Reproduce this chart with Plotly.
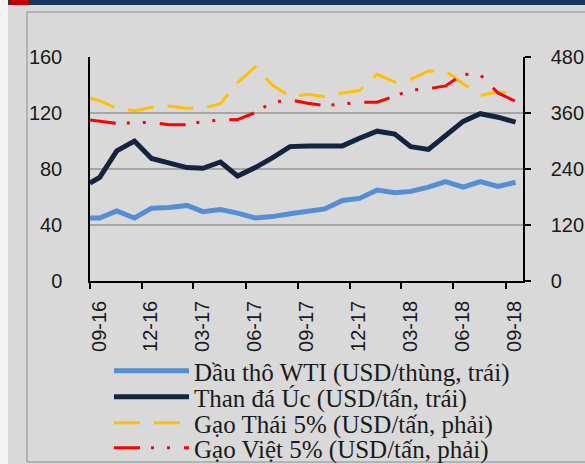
import plotly.graph_objects as go

# monthly observations (first point sits on the 09-16 tick)
dates = ["2016-09-01", "2016-09-18", "2016-10-18", "2016-11-18", "2016-12-18",
         "2017-01-18", "2017-02-18", "2017-03-18", "2017-04-18", "2017-05-18",
         "2017-06-18", "2017-07-18", "2017-08-18", "2017-09-18", "2017-10-18",
         "2017-11-18", "2017-12-18", "2018-01-18", "2018-02-18", "2018-03-18",
         "2018-04-18", "2018-05-18", "2018-06-18", "2018-07-18", "2018-08-18",
         "2018-09-18"]

wti = [45, 45, 50, 45, 52, 52.5, 54, 49.5, 51, 48.5, 45, 46, 48, 49.5, 51.5,
       57.5, 59, 65, 63, 64, 67, 71, 67, 71, 67.5, 70.5]
coal = [70, 74, 93, 100, 87.5, 84.5, 81, 80.5, 85, 75, 81, 88, 96, 96.5, 96.5,
        96.5, 102, 107, 105, 96, 94, 104, 114, 119.5, 117, 113.5]
thai_rice = [392, 386, 370, 365, 372, 375, 370, 370, 380, 425, 459, 420, 395, 400,
             395, 403, 408, 443, 426, 432, 450, 450, 423, 398, 405, 402]
viet_rice = [345, 343, 338, 339, 340, 335, 335, 342, 345, 346, 361, 383, 388, 381,
             376, 379, 383, 383, 396, 409, 412, 418, 443, 442, 403, 385]

names = ["Dầu thô WTI (USD/thùng, trái)",
         "Than đá Úc (USD/tấn, trái)",
         "Gạo Thái 5% (USD/tấn, phải)",
         "Gạo Việt 5% (USD/tấn, phải)"]

W, H = 585, 464
ML, MR, MT, MB = 90, 62, 57, 183
PW, PH = W - ML - MR, H - MT - MB


def px(x):
    return (x - ML) / PW


def py(y):
    return (H - MB - y) / PH


fig = go.Figure()
fig.add_trace(go.Scatter(x=dates, y=wti, name=names[0], mode="lines", legend="legend",
                         line=dict(color="#558ed5", width=5)))
fig.add_trace(go.Scatter(x=dates, y=coal, name=names[1], mode="lines", legend="legend2",
                         line=dict(color="#14243f", width=5)))
fig.add_trace(go.Scatter(x=dates, y=thai_rice, name=names[2], mode="lines", yaxis="y2",
                         legend="legend3",
                         line=dict(color="#ffc000", width=3, dash="26px,14px")))
fig.add_trace(go.Scatter(x=dates, y=viet_rice, name=names[3], mode="lines", yaxis="y2",
                         legend="legend4",
                         line=dict(color="#ff0000", width=3,
                                   dash="26px,11px,3px,13px,3px,14px")))

shapes = [
    dict(type="rect", xref="paper", yref="paper", x0=px(0), x1=px(8), y0=py(H), y1=py(0),
         fillcolor="#f4f4f4", line_width=0, layer="below"),
    dict(type="rect", xref="paper", yref="paper", x0=px(27), x1=px(W + 5), y0=py(462), y1=py(12),
         fillcolor="rgba(0,0,0,0)", line=dict(color="#a6a6a6", width=1.5), layer="below"),
    dict(type="rect", xref="paper", yref="paper", x0=px(8), x1=px(W), y0=py(5), y1=py(0),
         fillcolor="#17355e", line_width=0),
    dict(type="rect", xref="paper", yref="paper", x0=px(9), x1=px(29), y0=py(5), y1=py(0),
         fillcolor="#c00000", line_width=0),
]


def legend_row(ypix):
    return dict(x=px(109), y=py(ypix), xanchor="left", yanchor="middle",
                bgcolor="rgba(0,0,0,0)", itemwidth=75,
                font=dict(family="Liberation Serif", size=25, color="#1a1a1a"))


fig.update_layout(
    width=W, height=H,
    margin=dict(l=ML, r=MR, t=MT, b=MB, autoexpand=False),
    paper_bgcolor="#d9d9d9", plot_bgcolor="#d9d9d9",
    font=dict(family="Liberation Sans", size=20, color="#1a1a1a"),
    shapes=shapes,
    showlegend=True,
    legend=legend_row(371),
    legend2=legend_row(397),
    legend3=legend_row(423),
    legend4=legend_row(448),
    xaxis=dict(type="date", range=["2016-09-01", "2018-10-01"],
               tick0="2016-09-01", dtick="M3", tickformat="%m-%y", tickangle=-90,
               ticks="outside", ticklen=6, tickwidth=1.5, tickcolor="black",
               showline=True, linecolor="black", linewidth=1.5, showgrid=False,
               ticklabelshift=9, ticklabelstandoff=4),
    yaxis=dict(range=[0, 160], dtick=40, showline=True, linecolor="black", linewidth=1.5,
               showgrid=True, gridcolor="#a6a6a6", gridwidth=1.5, zeroline=False,
               ticks="", ticklabelstandoff=22),
    yaxis2=dict(range=[0, 480], dtick=120, overlaying="y", side="right",
                showline=True, linecolor="black", linewidth=1.5, showgrid=False,
                zeroline=False, ticks="outside", ticklen=6, tickwidth=1.5,
                tickcolor="black", ticklabelstandoff=16),
)

fig.write_html("out.html", config={"displayModeBar": False},
               post_script="document.body.style.margin = '0';")
